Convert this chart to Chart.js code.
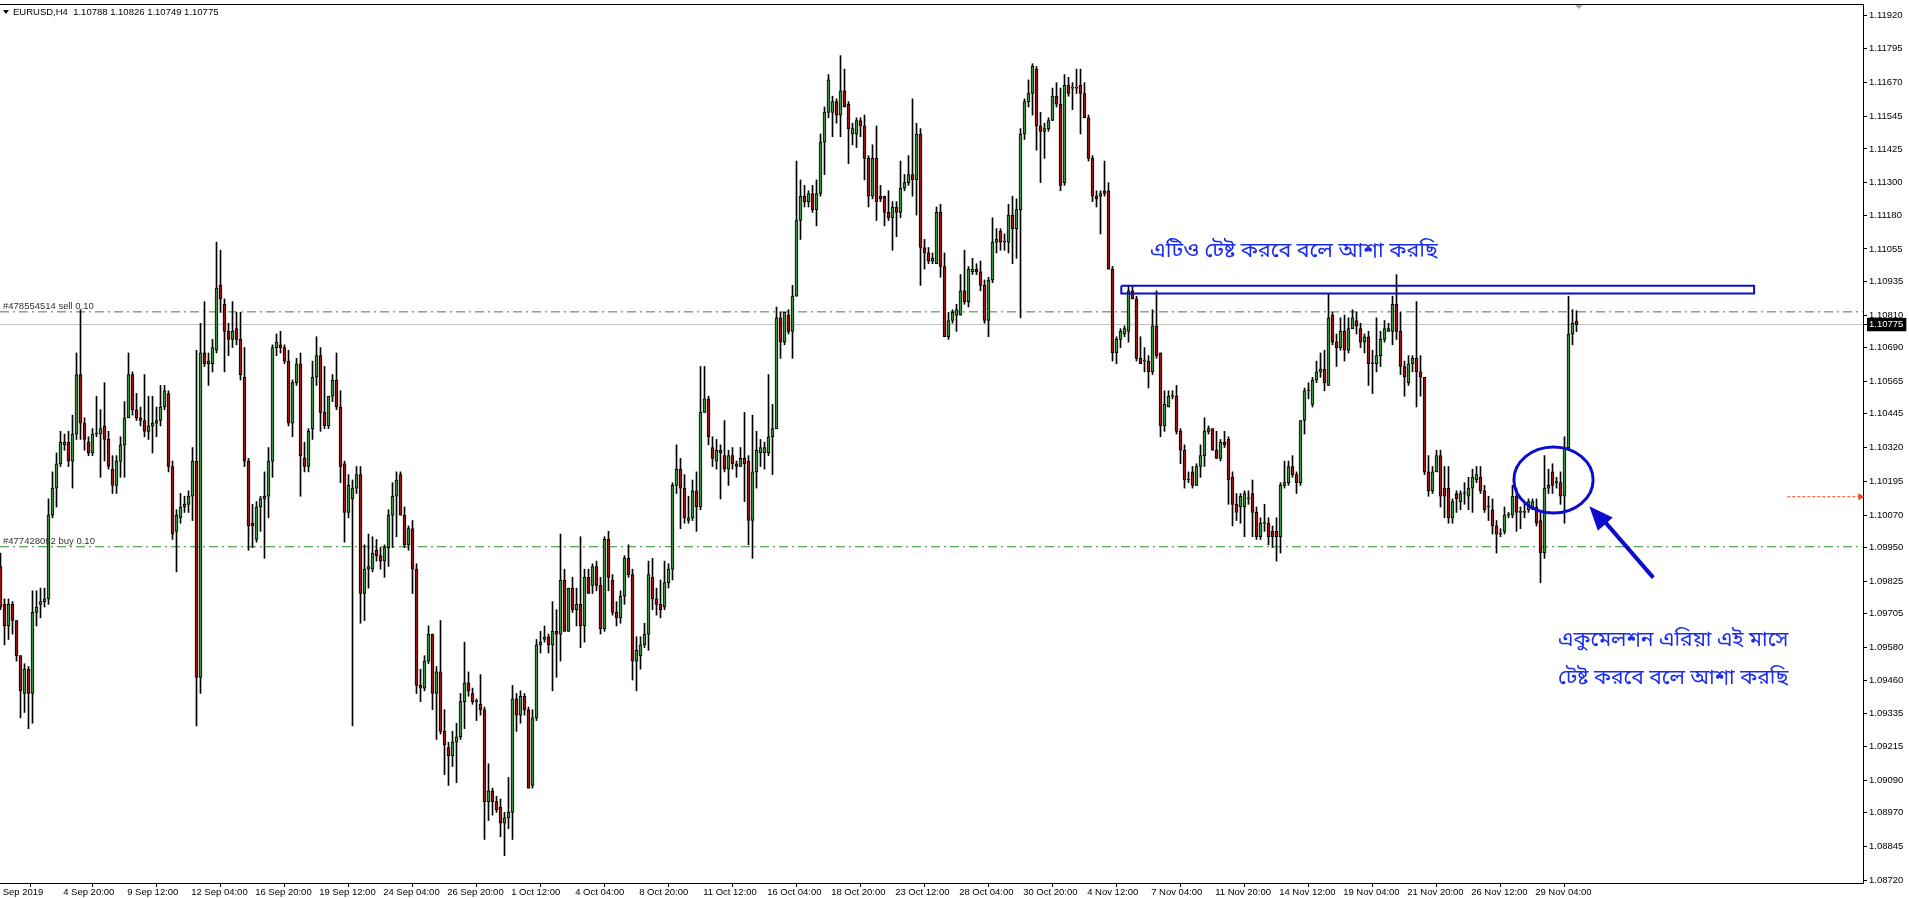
<!DOCTYPE html>
<html>
<head>
<meta charset="utf-8">
<script src="https://cdn.jsdelivr.net/npm/chart.js@4.4.0/dist/chart.umd.min.js"></script>
<style>
  html, body { margin: 0; padding: 0; background: #fff; overflow: hidden; }
  #wrap { width: 1909px; height: 898px; position: relative; }
</style>
</head>
<body>
<div id="wrap"><canvas id="chart"></canvas></div>
<script>
// EURUSD H4 candles (oldest first)
const opens = [
  1.0988,1.0974,1.0966,1.0974,1.0968,1.0955,1.0941,1.0950,1.0941,1.0971,
  1.0974,1.0975,1.0976,1.1007,1.1017,1.1026,1.1033,1.1034,1.1027,1.1037,
  1.1059,1.1041,1.1034,1.1030,1.1037,1.1037,1.1040,1.1035,1.1024,1.1018,
  1.1027,1.1033,1.1043,1.1059,1.1046,1.1043,1.1042,1.1038,1.1040,1.1041,
  1.1042,1.1047,1.1052,1.1025,1.1001,1.1006,1.1010,1.1011,1.1014,1.1027,
  1.0947,1.1067,1.1063,1.1063,1.1068,1.1092,1.1085,1.1075,1.1072,1.1076,
  1.1072,1.1058,1.1027,1.1004,1.0998,1.1010,1.1013,1.1014,1.1027,1.1069,
  1.1070,1.1069,1.1064,1.1041,1.1056,1.1063,1.1028,1.1025,
  1.1039,1.1058,1.1066,1.1045,1.1040,1.1051,1.1057,1.1047,1.1026,1.1008,
  1.1013,1.1017,1.1022,1.0978,1.0987,1.0987,1.0994,1.0992,1.0990,1.0995,
  1.1007,1.1014,1.1022,1.1007,1.0996,1.1002,1.0987,1.0944,1.0943,1.0953,
  1.0963,1.0941,1.0949,1.0927,1.0921,1.0918,1.0923,1.0925,1.0938,1.0945,
  1.0941,1.0938,1.0937,1.0935,1.0901,1.0905,1.0901,1.0899,1.0893,1.0895,
  1.0897,1.0939,1.0933,1.0940,1.0935,1.0907,1.0932,1.0959,1.0961,1.0962,
  1.0959,1.0964,1.0963,1.0983,1.0964,1.0980,1.0972,1.0974,1.0966,1.0984,
  1.0981,1.0988,1.0981,1.0965,1.0998,1.0983,1.0971,
  1.0969,1.0977,1.0991,1.0985,1.0953,1.0955,1.0959,1.0963,1.0984,1.0976,
  1.0974,1.0973,1.0982,1.0987,1.1018,1.1024,1.1017,1.1005,1.1006,1.1016,
  1.1010,1.1045,1.1050,1.1032,1.1027,1.1031,1.1029,1.1024,1.1029,1.1026,
  1.1025,1.1028,1.1027,1.1005,1.1023,1.1030,1.1030,1.1030,1.1036,1.1039,
  1.1080,1.1071,1.1081,1.1075,1.1088,1.1116,1.1125,1.1123,1.1126,1.1120,
  1.1126,1.1145,1.1156,1.1156,1.1160,1.1155,1.1164,1.1159,1.1148,1.1148,
  1.1153,1.1151,1.1139,1.1125,1.1139,1.1125,1.1125,1.1119,1.1117,1.1121,
  1.1119,1.1128,1.1130,1.1133,1.1131,1.1148,1.1106,1.1104,
  1.1101,1.1100,1.1119,1.1099,1.1073,1.1079,1.1081,1.1081,1.1090,1.1086,
  1.1097,1.1098,1.1097,1.1092,1.1079,1.1094,1.1108,1.1112,1.1108,1.1108,
  1.1118,1.1113,1.1120,1.1148,1.1160,1.1163,1.1172,1.1151,1.1149,1.1150,
  1.1153,1.1162,1.1159,1.1130,1.1166,1.1165,1.1165,1.1166,1.1163,1.1154,
  1.1139,1.1125,1.1125,1.1127,1.1127,1.1098,1.1067,1.1072,1.1074,1.1075,
  1.1090,1.1087,1.1065,1.1064,1.1064,1.1060,1.1077,1.1067,1.1040,1.1047,
  1.1051,1.1051,1.1038,1.1031,1.1020,1.1023,1.1018,1.1025,1.1029,1.1038,
  1.1039,1.1031,1.1028,1.1034,1.1035,1.1021,1.1011,
  1.1010,1.1010,1.1013,1.1015,1.1008,1.0999,1.1004,1.1004,1.1001,1.1001,
  1.0999,1.1018,1.1019,1.1025,1.1022,1.1019,1.1042,1.1053,1.1048,1.1057,
  1.1060,1.1061,1.1055,1.1081,1.1071,1.1069,1.1075,1.1068,1.1076,1.1079,
  1.1076,1.1071,1.1073,1.1063,1.1063,1.1066,1.1072,1.1075,1.1075,1.1085,
  1.1075,1.1062,1.1056,1.1063,1.1065,1.1060,1.1058,1.1023,1.1016,1.1023,
  1.1029,1.1017,1.1017,1.1006,1.1015,1.1012,1.1015,1.1014,1.1017,1.1020,
  1.1021,1.1016,1.1010,1.1009,1.1003,1.1000,1.1001,1.1007,1.1007,1.1014,
  1.1008,1.1008,1.1009,1.1010,1.1010,1.1005,1.0993,1.1017,
  1.1023,1.1019,1.1019,1.1014,1.1032,1.1074,1.10788
];
const highs = [
  1.0993,1.0976,1.0976,1.0975,1.0968,1.0955,1.0952,1.0951,1.0979,1.0979,
  1.0980,1.0980,1.1013,1.1023,1.1030,1.1038,1.1037,1.1038,1.1044,1.1067,
  1.1083,1.1043,1.1036,1.1039,1.1051,1.1046,1.1056,1.1038,1.1029,1.1029,
  1.1036,1.1049,1.1067,1.1060,1.1052,1.1047,1.1059,1.1051,1.1051,1.1047,
  1.1055,1.1055,1.1053,1.1027,1.1009,1.1015,1.1014,1.1016,1.1032,1.1068,
  1.1078,1.1086,1.1067,1.1072,1.1108,1.1105,1.1087,1.1078,1.1086,1.1082,
  1.1082,1.1069,1.1028,1.1011,1.1012,1.1014,1.1023,1.1032,1.1070,1.1074,
  1.1075,1.1070,1.1068,1.1057,1.1065,1.1067,1.1034,1.1039,
  1.1064,1.1073,1.1069,1.1062,1.1051,1.1059,1.1067,1.1053,1.1027,1.1022,
  1.1020,1.1025,1.1025,1.0996,1.1000,1.0999,1.0998,1.0995,1.0996,1.1009,
  1.1019,1.1023,1.1023,1.1010,1.1003,1.1005,1.0989,1.0950,1.0955,1.0966,
  1.0963,1.0951,1.0968,1.0935,1.0923,1.0927,1.0930,1.0941,1.0960,1.0949,
  1.0943,1.0939,1.0948,1.0936,1.0915,1.0906,1.0903,1.0902,1.0897,1.0910,
  1.0944,1.0941,1.0942,1.0941,1.0936,1.0935,1.0961,1.0964,1.0966,1.0963,
  1.0975,1.0972,1.1000,1.0987,1.0980,1.0984,1.0980,1.0999,1.0987,1.0987,
  1.0989,1.0990,1.0984,1.0999,1.1001,1.0985,1.0975,
  1.0979,1.0992,1.0996,1.0987,1.0962,1.0962,1.0967,1.0990,1.0991,1.0980,
  1.0983,1.0990,1.0989,1.1019,1.1033,1.1028,1.1022,1.1014,1.1020,1.1023,
  1.1062,1.1062,1.1051,1.1036,1.1035,1.1033,1.1042,1.1031,1.1032,1.1027,
  1.1032,1.1045,1.1029,1.1044,1.1038,1.1035,1.1034,1.1059,1.1048,1.1084,
  1.1082,1.1082,1.1083,1.1092,1.1138,1.1131,1.1129,1.1127,1.1129,1.1131,
  1.1148,1.1158,1.1170,1.1162,1.1161,1.1177,1.1172,1.1160,1.1152,1.1154,
  1.1154,1.1155,1.1140,1.1144,1.1151,1.1129,1.1125,1.1127,1.1123,1.1123,
  1.1138,1.1133,1.1140,1.1161,1.1152,1.1150,1.1109,1.1106,
  1.1104,1.1121,1.1122,1.1104,1.1082,1.1083,1.1085,1.1096,1.1105,1.1099,
  1.1102,1.1100,1.1101,1.1094,1.1095,1.1117,1.1113,1.1113,1.1111,1.1122,
  1.1125,1.1124,1.1150,1.1161,1.1168,1.1174,1.1173,1.1156,1.1152,1.1154,
  1.1165,1.1167,1.1165,1.1170,1.1169,1.1167,1.1172,1.1172,1.1167,1.1155,
  1.1140,1.1127,1.1127,1.1138,1.1130,1.1099,1.1073,1.1076,1.1077,1.1092,
  1.1092,1.1088,1.1073,1.1069,1.1066,1.1083,1.1090,1.1067,1.1053,1.1053,
  1.1053,1.1055,1.1039,1.1033,1.1023,1.1025,1.1026,1.1033,1.1043,1.1040,
  1.1039,1.1038,1.1035,1.1038,1.1036,1.1023,1.1015,
  1.1015,1.1016,1.1016,1.1020,1.1010,1.1006,1.1011,1.1006,1.1003,1.1006,
  1.1019,1.1027,1.1027,1.1029,1.1023,1.1042,1.1054,1.1056,1.1058,1.1064,
  1.1067,1.1068,1.1089,1.1082,1.1074,1.1080,1.1081,1.1080,1.1083,1.1082,
  1.1078,1.1074,1.1075,1.1068,1.1080,1.1075,1.1079,1.1078,1.1088,1.1096,
  1.1082,1.1064,1.1066,1.1066,1.1086,1.1066,1.1058,1.1029,1.1025,1.1031,
  1.1031,1.1025,1.1025,1.1013,1.1016,1.1016,1.1019,1.1021,1.1024,1.1025,
  1.1025,1.1018,1.1014,1.1013,1.1005,1.1002,1.1010,1.1008,1.1018,1.1017,
  1.1010,1.1011,1.1013,1.1013,1.1013,1.1008,1.1029,1.1024,
  1.1026,1.1021,1.1023,1.1036,1.1088,1.1083,1.10826
];
const lows = [
  1.0972,1.0959,1.0961,1.0963,1.0953,1.0932,1.0934,1.0928,1.0930,1.0966,
  1.0969,1.0973,1.0974,1.1006,1.1010,1.1025,1.1031,1.1025,1.1017,1.1035,
  1.1035,1.1031,1.1029,1.1029,1.1036,1.1021,1.1027,1.1024,1.1015,1.1015,
  1.1021,1.1021,1.1043,1.1044,1.1042,1.1040,1.1036,1.1035,1.1030,1.1036,
  1.1040,1.1046,1.1023,1.0998,1.0986,1.1004,1.1008,1.1008,1.1005,1.0929,
  1.0941,1.1062,1.1055,1.1060,1.1067,1.1082,1.1060,1.1066,1.1069,1.1070,
  1.1057,1.1025,1.0994,1.0995,1.0997,1.1001,1.0991,1.1006,1.1021,1.1066,
  1.1067,1.1063,1.1040,1.1036,1.1055,1.1014,1.1023,1.1023,
  1.1035,1.1055,1.1038,1.1039,1.1039,1.1049,1.1046,1.1019,1.0997,1.1006,
  1.0929,1.1015,1.0967,1.0968,1.0980,1.0986,1.0990,1.0987,1.0984,1.0988,
  1.0995,1.0999,1.1007,1.0995,1.0994,1.0978,1.0941,1.0938,1.0942,1.0952,
  1.0935,1.0924,1.0926,1.0911,1.0907,1.0914,1.0908,1.0924,1.0928,1.0940,
  1.0937,1.0931,1.0933,1.0887,1.0894,1.0896,1.0897,1.0888,1.0881,1.0891,
  1.0887,1.0927,1.0930,1.0933,1.0906,1.0906,1.0931,1.0956,1.0960,1.0956,
  1.0942,1.0947,1.0953,1.0964,1.0964,1.0971,1.0966,1.0958,1.0960,1.0978,
  1.0978,1.0979,1.0963,1.0964,1.0979,1.0970,1.0966,
  1.0967,1.0974,1.0984,1.0946,1.0942,1.0950,1.0958,1.0957,1.0972,1.0970,
  1.0969,1.0972,1.0980,1.0983,1.1015,1.1002,1.1004,1.1004,1.1005,1.1001,
  1.1009,1.1045,1.1033,1.1025,1.1024,1.1013,1.1023,1.1018,1.1024,1.1021,
  1.1025,1.1012,1.0996,1.0991,1.1017,1.1025,1.1024,1.1029,1.1022,1.1039,
  1.1065,1.1070,1.1074,1.1065,1.1088,1.1109,1.1121,1.1121,1.1119,1.1114,
  1.1125,1.1133,1.1154,1.1147,1.1152,1.1147,1.1158,1.1137,1.1144,1.1143,
  1.1147,1.1131,1.1121,1.1124,1.1116,1.1123,1.1114,1.1116,1.1105,1.1110,
  1.1117,1.1127,1.1129,1.1125,1.1118,1.1092,1.1098,1.1100,
  1.1100,1.1100,1.1095,1.1073,1.1072,1.1078,1.1075,1.1081,1.1085,1.1084,
  1.1096,1.1096,1.1090,1.1078,1.1073,1.1093,1.1104,1.1105,1.1105,1.1104,
  1.1100,1.1102,1.1080,1.1146,1.1158,1.1155,1.1142,1.1130,1.1139,1.1149,
  1.1153,1.1158,1.1127,1.1129,1.1162,1.1157,1.1163,1.1148,1.1154,1.1138,
  1.1123,1.1121,1.1111,1.1125,1.1098,1.1064,1.1063,1.1069,1.1073,1.1071,
  1.1087,1.1064,1.1063,1.1060,1.1054,1.1059,1.1065,1.1036,1.1038,1.1047,
  1.1050,1.1037,1.1026,1.1017,1.1019,1.1017,1.1018,1.1021,1.1025,1.1037,
  1.1031,1.1028,1.1027,1.1032,1.1011,1.1003,1.1005,
  1.1004,1.0999,1.1011,1.0999,1.0998,1.0998,1.1001,1.0996,1.0995,1.0990,
  1.0993,1.1017,1.1018,1.1021,1.1015,1.1018,1.1037,1.1050,1.1047,1.1056,
  1.1058,1.1053,1.1055,1.1070,1.1062,1.1068,1.1064,1.1067,1.1076,1.1074,
  1.1069,1.1067,1.1055,1.1052,1.1060,1.1062,1.1071,1.1075,1.1070,1.1072,
  1.1059,1.1051,1.1055,1.1060,1.1047,1.1051,1.1022,1.1014,1.1015,1.1023,
  1.1010,1.1006,1.1004,1.1004,1.1008,1.1009,1.1011,1.1009,1.1008,1.1019,
  1.1015,1.1008,1.1005,1.1000,1.0993,1.0999,1.1000,1.1006,1.1006,1.1001,
  1.1002,1.1006,1.1008,1.1009,1.1003,1.0982,1.0991,1.1015,
  1.1015,1.1017,1.1011,1.1004,1.1031,1.1070,1.10749
];
const closes = [
  1.0973,1.0966,1.0974,1.0968,1.0955,1.0942,1.0950,1.0941,1.0971,1.0973,
  1.0975,1.0976,1.1007,1.1017,1.1026,1.1034,1.1034,1.1027,1.1037,1.1059,
  1.1041,1.1035,1.1030,1.1037,1.1037,1.1039,1.1035,1.1025,1.1018,1.1027,
  1.1033,1.1043,1.1059,1.1046,1.1043,1.1042,1.1038,1.1040,1.1041,1.1042,
  1.1047,1.1053,1.1025,1.1000,1.1007,1.1010,1.1011,1.1014,1.1027,1.0947,
  1.1067,1.1063,1.1064,1.1069,1.1091,1.1087,1.1075,1.1072,1.1075,1.1072,
  1.1059,1.1027,1.1003,1.1003,1.1010,1.1013,1.1014,1.1027,1.1069,1.1071,
  1.1069,1.1064,1.1041,1.1056,1.1063,1.1029,1.1025,1.1038,
  1.1058,1.1066,1.1045,1.1040,1.1051,1.1057,1.1047,1.1025,1.1008,1.1018,
  1.1017,1.1022,1.0978,1.0987,1.0988,1.0993,1.0992,1.0990,1.0995,1.1007,
  1.1014,1.1020,1.1007,1.0996,1.1002,1.0987,1.0944,1.0943,1.0953,1.0963,
  1.0941,1.0949,1.0927,1.0922,1.0918,1.0923,1.0925,1.0938,1.0945,1.0942,
  1.0938,1.0938,1.0935,1.0901,1.0905,1.0901,1.0898,1.0893,1.0895,1.0897,
  1.0939,1.0933,1.0940,1.0935,1.0906,1.0932,1.0959,1.0960,1.0962,1.0959,
  1.0964,1.0963,1.0983,1.0964,1.0980,1.0972,1.0974,1.0966,1.0984,1.0978,
  1.0988,1.0981,1.0965,1.0998,1.0984,1.0971,1.0969,
  1.0977,1.0991,1.0985,1.0953,1.0957,1.0959,1.0963,1.0985,1.0976,1.0974,
  1.0972,1.0982,1.0987,1.1018,1.1024,1.1017,1.1006,1.1006,1.1016,1.1010,
  1.1045,1.1050,1.1036,1.1028,1.1031,1.1030,1.1024,1.1029,1.1026,1.1025,
  1.1028,1.1026,1.1005,1.1023,1.1031,1.1032,1.1032,1.1036,1.1039,1.1080,
  1.1071,1.1082,1.1075,1.1088,1.1116,1.1125,1.1123,1.1126,1.1120,1.1126,
  1.1145,1.1156,1.1168,1.1160,1.1155,1.1164,1.1158,1.1150,1.1150,1.1153,
  1.1151,1.1139,1.1125,1.1139,1.1123,1.1124,1.1119,1.1117,1.1121,1.1119,
  1.1128,1.1130,1.1133,1.1131,1.1148,1.1106,1.1104,1.1101,
  1.1102,1.1119,1.1099,1.1073,1.1079,1.1082,1.1083,1.1090,1.1086,1.1098,
  1.1098,1.1097,1.1092,1.1079,1.1094,1.1108,1.1109,1.1108,1.1108,1.1118,
  1.1113,1.1120,1.1148,1.1160,1.1163,1.1173,1.1151,1.1149,1.1150,1.1153,
  1.1162,1.1159,1.1129,1.1166,1.1163,1.1165,1.1165,1.1163,1.1154,1.1139,
  1.1125,1.1124,1.1126,1.1126,1.1098,1.1067,1.1072,1.1075,1.1076,1.1090,
  1.1087,1.1065,1.1063,1.1064,1.1060,1.1077,1.1066,1.1040,1.1048,1.1051,
  1.1051,1.1038,1.1031,1.1020,1.1020,1.1018,1.1025,1.1029,1.1038,1.1039,
  1.1031,1.1028,1.1034,1.1033,1.1020,1.1011,1.1008,
  1.1014,1.1015,1.1013,1.1008,1.0999,1.1004,1.1004,1.0999,1.0999,1.0999,
  1.1018,1.1019,1.1025,1.1022,1.1019,1.1042,1.1053,1.1053,1.1057,1.1060,
  1.1061,1.1056,1.1080,1.1071,1.1069,1.1075,1.1068,1.1076,1.1080,1.1077,
  1.1071,1.1073,1.1063,1.1063,1.1066,1.1072,1.1076,1.1076,1.1085,1.1075,
  1.1062,1.1058,1.1063,1.1065,1.1060,1.1058,1.1023,1.1016,1.1023,1.1029,
  1.1014,1.1014,1.1006,1.1012,1.1013,1.1015,1.1015,1.1017,1.1021,1.1022,
  1.1016,1.1009,1.1010,1.1003,1.1000,1.1000,1.1007,1.1007,1.1014,1.1008,
  1.1008,1.1008,1.1012,1.1012,1.1004,1.0993,1.1017,1.1018,
  1.1018,1.1019,1.1014,1.1032,1.1074,1.1078,1.10775
];

// time axis: one label every 16 bars, starting at bar 15
const timeLabels = ['4 Sep 20:00','9 Sep 12:00','12 Sep 04:00','16 Sep 20:00','19 Sep 12:00',
  '24 Sep 04:00','26 Sep 20:00','1 Oct 12:00','4 Oct 04:00','8 Oct 20:00','11 Oct 12:00',
  '16 Oct 04:00','18 Oct 20:00','23 Oct 12:00','28 Oct 04:00','30 Oct 20:00','4 Nov 12:00',
  '7 Nov 04:00','11 Nov 20:00','14 Nov 12:00','19 Nov 04:00','21 Nov 20:00','26 Nov 12:00',
  '29 Nov 04:00'];
const firstLabel = 'Sep 2019';
const labelStart = 15, labelStep = 16;

const priceTicks = [1.11920,1.11795,1.11670,1.11545,1.11425,1.11300,1.11180,1.11055,1.10935,
  1.10810,1.10690,1.10565,1.10445,1.10320,1.10195,1.10070,1.09950,1.09825,1.09705,1.09580,
  1.09460,1.09335,1.09215,1.09090,1.08970,1.08845,1.08720];
const lastPrice = 1.10775;
const header = 'EURUSD,H4  1.10788 1.10826 1.10749 1.10775';

// order lines
const sellPrice = 1.10822, sellText = '#478554514 sell 0.10';
const buyPrice = 1.09953, buyText = '#477428092 buy 0.10';
const alertPrice = 1.10138, alertFrom = 446.7, alertTo = 465.2;

// hand drawn annotations (bar index, price)
const boxX = [280.2, 438.4], boxY = [1.10919, 1.10890];
const ringCenter = [388.25, 1.10200], ringRadius = [9.9, 0.00122];
const arrowTail = [413.2, 1.09839], arrowHead = [397.2, 1.10103];
const note1 = { text: 'এটিও টেষ্ট করবে বলে আশা করছি', x: 287.4, y: 1.1104, width: 288 };
const note2 = { lines: ['একুমেলশন এরিয়া এই মাসে', 'টেষ্ট করবে বলে আশা করছি'], x: 389.4, y: [1.0960, 1.0946], width: 230 };

const xMin = -0.125, xMax = 465.625;
const yMin = 1.08709, yMax = 1.11961;

const bull = '#3f8f3f', bear = '#9a1414', ink = '#0c0cd0', orderGreen = '#2b8a2b';
const labelFont = "'Liberation Sans', Arial, sans-serif";
const font9 = "9.5px " + labelFont;

const bodies = opens.map((o, i) => ({ x: i, y: [o, closes[i]] }));
const wicks = highs.map((h, i) => ({ x: i, y: [lows[i], h] }));

function hline(p) { return [{ x: xMin, y: p }, { x: xMax, y: p }]; }

const annotate = {
  id: 'annotate',
  afterDatasetsDraw(chart) {
    const ctx = chart.ctx, xs = chart.scales.x, ys = chart.scales.y;
    const px = v => xs.getPixelForValue(v), py = v => ys.getPixelForValue(v);
    ctx.save();

    // header
    ctx.fillStyle = '#000';
    ctx.beginPath(); ctx.moveTo(3, 10); ctx.lineTo(9, 10); ctx.lineTo(6, 14); ctx.closePath(); ctx.fill();
    ctx.font = font9; ctx.textBaseline = 'middle'; ctx.textAlign = 'left';
    ctx.fillText(header, 13, 12);

    // chart shift marker
    ctx.fillStyle = '#a8a8a8';
    const sx = px(394.6);
    ctx.beginPath(); ctx.moveTo(sx - 4, 5); ctx.lineTo(sx + 4, 5); ctx.lineTo(sx, 9); ctx.closePath(); ctx.fill();

    // order labels
    ctx.fillStyle = '#333';
    ctx.textBaseline = 'alphabetic';
    ctx.fillText(sellText, 3, py(sellPrice) - 3);
    ctx.fillText(buyText, 3, py(buyPrice) - 3);

    // alert arrow head
    ctx.fillStyle = '#ff3c14';
    const ax = px(alertTo), ay = py(alertPrice);
    ctx.beginPath(); ctx.moveTo(ax + 3, ay); ctx.lineTo(ax - 3, ay - 3.5); ctx.lineTo(ax - 3, ay + 3.5); ctx.closePath(); ctx.fill();

    // ellipse
    ctx.strokeStyle = ink; ctx.lineWidth = 3;
    const cx = px(ringCenter[0]), cy = py(ringCenter[1]);
    const rx = Math.abs(px(ringCenter[0] + ringRadius[0]) - cx), ry = Math.abs(py(ringCenter[1] + ringRadius[1]) - cy);
    ctx.beginPath(); ctx.ellipse(cx, cy, rx, ry, 0, 0, Math.PI * 2); ctx.stroke();

    // blue arrow head
    const tx = px(arrowTail[0]), ty = py(arrowTail[1]), hx = px(arrowHead[0]), hy = py(arrowHead[1]);
    const ang = Math.atan2(hy - ty, hx - tx), len = 24, half = 10;
    const bx = hx - len * Math.cos(ang), by = hy - len * Math.sin(ang);
    ctx.fillStyle = ink;
    ctx.beginPath();
    ctx.moveTo(hx, hy);
    ctx.lineTo(bx + half * Math.sin(ang), by - half * Math.cos(ang));
    ctx.lineTo(bx - half * Math.sin(ang), by + half * Math.cos(ang));
    ctx.closePath(); ctx.fill();

    // notes
    const fam = "'Noto Sans Bengali', 'Lohit Bengali', 'Vrinda', 'Noto Sans', sans-serif";
    ctx.fillStyle = '#1b2cf0';
    ctx.textBaseline = 'middle';
    ctx.font = '20px ' + fam;
    let s = 20 * note1.width / ctx.measureText(note1.text).width;
    ctx.font = s.toFixed(1) + 'px ' + fam;
    ctx.fillText(note1.text, px(note1.x), py(note1.y));
    ctx.font = '20px ' + fam;
    s = 20 * note2.width / ctx.measureText(note2.lines[0]).width;
    ctx.font = s.toFixed(1) + 'px ' + fam;
    note2.lines.forEach((t, k) => ctx.fillText(t, px(note2.x), py(note2.y[k])));

    ctx.restore();
  }
};

new Chart(document.getElementById('chart'), {
  type: 'bar',
  data: {
    datasets: [
      { type: 'line', data: [{ x: boxX[0], y: boxY[0] }, { x: boxX[1], y: boxY[0] }, { x: boxX[1], y: boxY[1] }, { x: boxX[0], y: boxY[1] }, { x: boxX[0], y: boxY[0] }],
        borderColor: ink, borderWidth: 2, pointRadius: 0, fill: false, tension: 0, order: 0 },
      { type: 'line', data: [{ x: arrowTail[0], y: arrowTail[1] }, { x: arrowHead[0] + 2.5, y: arrowHead[1] - 0.00034 }],
        borderColor: ink, borderWidth: 4, pointRadius: 0, fill: false, order: 0 },
      { data: bodies, backgroundColor: c => (c.raw && c.raw.y[1] >= c.raw.y[0]) ? bull : bear,
        borderColor: '#000', borderWidth: 1, borderSkipped: false, barThickness: 3, minBarLength: 1,
        grouped: false, order: 1 },
      { data: wicks, backgroundColor: '#000', borderWidth: 0, barThickness: 1, grouped: false, order: 2 },
      { type: 'line', data: hline(lastPrice), borderColor: '#c0c0c0', borderWidth: 1, pointRadius: 0, order: 3 },
      { type: 'line', data: hline(sellPrice), borderColor: orderGreen, borderWidth: 1, borderDash: [9, 4, 2, 4], pointRadius: 0, order: 3 },
      { type: 'line', data: hline(buyPrice), borderColor: orderGreen, borderWidth: 1, borderDash: [9, 4, 2, 4], pointRadius: 0, order: 3 },
      { type: 'line', data: [{ x: alertFrom, y: alertPrice }, { x: alertTo - 0.6, y: alertPrice }], borderColor: '#ff3c14', borderWidth: 1, borderDash: [3, 2], pointRadius: 0, order: 3 }
    ]
  },
  options: {
    responsive: true,
    maintainAspectRatio: false,
    animation: false,
    devicePixelRatio: 1,
    layout: { padding: 0 },
    plugins: { legend: { display: false }, tooltip: { enabled: false }, title: { display: false } },
    scales: {
      x: {
        type: 'linear', position: 'bottom', min: xMin, max: xMax, offset: false,
        grid: { display: true, drawOnChartArea: false, drawTicks: true, tickLength: 4,
          color: c => c.index === 0 ? 'rgba(0,0,0,0)' : '#000' },
        border: { display: true, color: '#000' },
        ticks: { autoSkip: false, maxRotation: 0, minRotation: 0, align: 'start', padding: 0, color: '#000',
          font: { family: labelFont, size: 9.5 },
          callback: (v, i) => i === 0 ? ' ' + firstLabel : ' ' + timeLabels[i - 1] },
        afterBuildTicks: s => {
          s.ticks = [{ value: xMin }].concat(timeLabels.map((t, k) => ({ value: labelStart + k * labelStep })));
        },
        afterFit: s => { s.height = 15; s.paddingLeft = 0; s.paddingRight = 0; }
      },
      top: {
        type: 'linear', position: 'top', min: 0, max: 1,
        grid: { display: false }, ticks: { display: false },
        border: { display: true, color: '#000' },
        afterFit: s => { s.height = 4; }
      },
      y: {
        type: 'linear', position: 'right', min: yMin, max: yMax,
        grid: { display: true, drawOnChartArea: false, drawTicks: true, tickLength: 4, color: '#000' },
        border: { display: true, color: '#000' },
        ticks: { autoSkip: false, padding: 2,
          font: { family: labelFont, size: 9.5 },
          color: c => (c.tick && c.tick.value === lastPrice) ? '#fff' : '#000',
          showLabelBackdrop: c => !!(c.tick && c.tick.value === lastPrice),
          backdropColor: c => (c.tick && c.tick.value === lastPrice) ? '#000' : 'rgba(0,0,0,0)',
          backdropPadding: { top: 1, bottom: 1, left: 2, right: 3 },
          callback: v => v.toFixed(5) },
        afterBuildTicks: s => {
          s.ticks = priceTicks.concat([lastPrice]).sort((a, b) => b - a).map(v => ({ value: v }));
        },
        afterFit: s => { s.width = 46; s.paddingTop = 0; s.paddingBottom = 0; }
      }
    }
  },
  plugins: [annotate]
});
</script>
</body>
</html>
